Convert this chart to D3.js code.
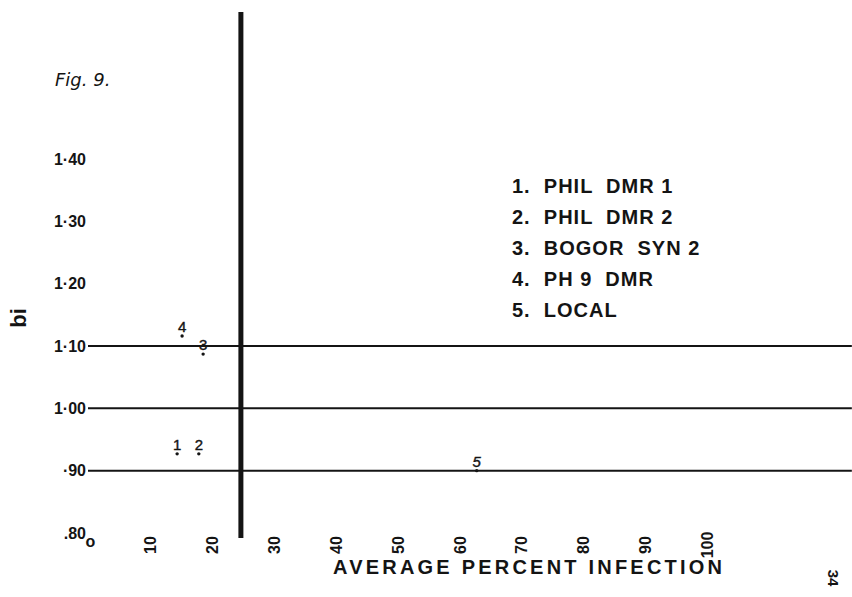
<!DOCTYPE html>
<html>
<head>
<meta charset="utf-8">
<script src="https://cdn.jsdelivr.net/npm/d3@7"></script>
<style>
  body { margin: 0; background: #fff; }
  svg { display: block; }
  text { fill: #141414; }
</style>
</head>
<body>
<svg id="chart" width="852" height="597"></svg>
<script>
// values
const yTicks = [0.80, 0.90, 1.00, 1.10, 1.20, 1.30, 1.40];
const yTickLabels = [".80", "·90", "1·00", "1·10", "1·20", "1·30", "1·40"];
const xTicks = [0, 10, 20, 30, 40, 50, 60, 70, 80, 90, 100];
const xTickLabels = ["o", "10", "20", "30", "40", "50", "60", "70", "80", "90", "100"];
const refLines = [0.90, 1.00, 1.10];     // horizontal rules (bi)
const meanInfection = 24.7;              // thick vertical rule
const meanLineSpan = [0.792, 1.636];     // bi extent of vertical rule
const xRuleEnd = 123.4;                  // rules run off the right edge
const pointIds = ["1", "2", "3", "4", "5"];
const pointX = [14.4, 17.9, 18.6, 15.2, 62.8];
const pointY = [0.927, 0.927, 1.087, 1.116, 0.900];
const legendLabels = ["1.  PHIL  DMR 1", "2.  PHIL  DMR 2", "3.  BOGOR  SYN 2", "4.  PH 9  DMR", "5.  LOCAL"];

const svg = d3.select("#chart");
const ink = "#141414";
const font = "'Liberation Sans', Arial, sans-serif";

const x = d3.scaleLinear().domain([0, 100]).range([88, 707]);
const y = d3.scaleLinear().domain([0.80, 1.40]).range([533, 159]);

// horizontal rules
svg.selectAll(".rule")
    .data(refLines)
    .enter()
    .append("line")
    .attr("class", "rule")
    .attr("x1", x(0))
    .attr("x2", x(xRuleEnd))
    .attr("y1", d => y(d))
    .attr("y2", d => y(d))
    .attr("stroke", ink)
    .attr("stroke-width", 2);

// thick vertical rule
svg.append("line")
    .attr("x1", x(meanInfection))
    .attr("x2", x(meanInfection))
    .attr("y1", y(meanLineSpan[1]))
    .attr("y2", y(meanLineSpan[0]))
    .attr("stroke", ink)
    .attr("stroke-width", 5);

// y axis (labels only)
const yAxis = svg.append("g")
    .attr("transform", "translate(87,0)")
    .call(d3.axisLeft(y).tickValues(yTicks).tickFormat((d, i) => yTickLabels[i]).tickSize(0).tickPadding(1));
yAxis.select(".domain").remove();
yAxis.selectAll("text")
    .style("font-family", font)
    .style("font-size", "16px")
    .style("font-weight", "bold")
    .attr("fill", ink);

// x axis (rotated labels only)
const xAxis = svg.append("g")
    .attr("transform", "translate(0,545)")
    .call(d3.axisBottom(x).tickValues(xTicks).tickFormat((d, i) => xTickLabels[i]).tickSize(0));
xAxis.select(".domain").remove();
xAxis.selectAll("text")
    .style("font-family", font)
    .style("font-size", "16px")
    .style("font-weight", "bold")
    .attr("fill", ink)
    .attr("y", 0)
    .attr("dy", "0.35em")
    .attr("text-anchor", "middle")
    .attr("transform", d => d === 0 ? "translate(2,-4)" : "rotate(-90)");

svg.append("text")
    .attr("x", 333)
    .attr("y", 574)
    .attr("textLength", 389)
    .attr("lengthAdjust", "spacing")
    .style("font-family", font)
    .style("font-size", "20px")
    .style("font-weight", "bold")
    .text("AVERAGE PERCENT INFECTION");

svg.append("text")
    .attr("transform", "translate(26,318) rotate(-90)")
    .attr("text-anchor", "middle")
    .style("font-family", font)
    .style("font-size", "22px")
    .style("font-weight", "bold")
    .text("bi");

svg.append("text")
    .attr("x", 55)
    .attr("y", 86)
    .style("font-family", "'DejaVu Sans', sans-serif")
    .style("font-size", "18px")
    .style("font-style", "italic")
    .text("Fig. 9.");

svg.append("text")
    .attr("transform", "translate(828,578) rotate(90)")
    .attr("text-anchor", "middle")
    .style("font-family", font)
    .style("font-size", "15px")
    .style("font-weight", "bold")
    .text("34");

// points: a small dot with its number just above
const pts = pointIds.map((id, i) => ({ id: id, x: pointX[i], y: pointY[i] }));
svg.selectAll(".pt")
    .data(pts)
    .enter()
    .append("circle")
    .attr("class", "pt")
    .attr("cx", d => x(d.x))
    .attr("cy", d => y(d.y))
    .attr("r", 1.7)
    .attr("fill", ink);
svg.selectAll(".ptlabel")
    .data(pts)
    .enter()
    .append("text")
    .attr("class", "ptlabel")
    .attr("x", d => x(d.x))
    .attr("y", d => y(d.y) - 4)
    .attr("text-anchor", "middle")
    .style("font-family", font)
    .style("font-size", "15px")
    .style("font-style", d => d.id === "5" ? "italic" : "normal")
    .attr("stroke", ink)
    .attr("stroke-width", 0.4)
    .text(d => d.id);

// legend
svg.selectAll(".legend")
    .data(legendLabels)
    .enter()
    .append("text")
    .attr("class", "legend")
    .attr("x", 512)
    .attr("y", (d, i) => 193 + i * 31)
    .style("white-space", "pre")
    .style("font-family", font)
    .style("font-size", "20px")
    .style("font-weight", "bold")
    .style("letter-spacing", "1px")
    .text(d => d);
</script>
</body>
</html>
